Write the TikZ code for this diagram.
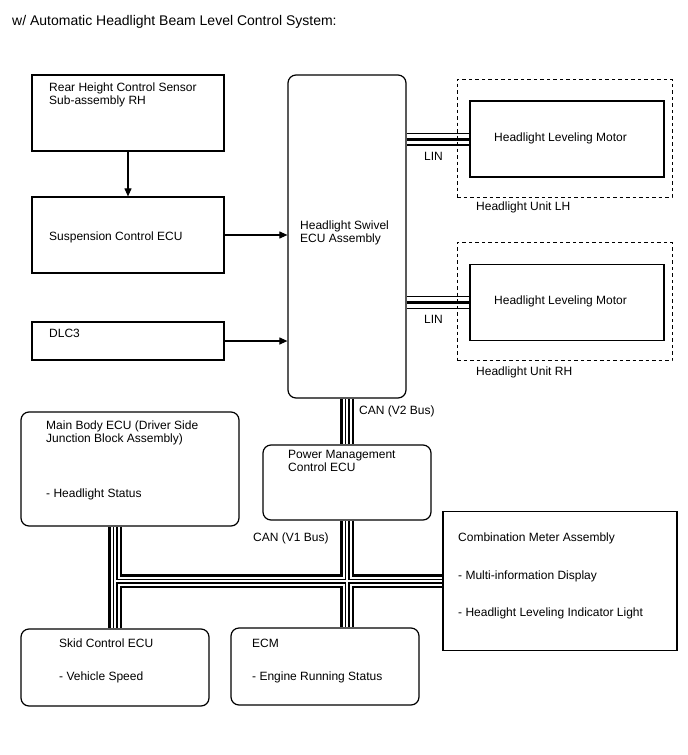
\documentclass[tikz,border=0pt]{standalone}
\usepackage{fontspec}
\setmainfont{Liberation Sans}
\usetikzlibrary{
  arrows.meta,
  positioning,
  calc,
  backgrounds
}
\tikzset{
  sqbox/.style={draw, line width=1.2pt, inner sep=0pt},
  rbox/.style={sqbox, rounded corners=8pt},
  unitbox/.style={draw, line width=1pt, dash pattern=on 3.5pt off 3pt, inner sep=0pt},
  txt/.style={anchor=base west, align=left, inner sep=0pt,
    font=\fontsize{12}{13.5}\selectfont},
  arr/.style={-{Triangle[length=8pt,width=7pt]}, line width=1.1pt},
}

\begin{document}
\begin{tikzpicture}[x=1pt, y=-1pt]
  \useasboundingbox (0,0) rectangle (688,755);
  \node[txt, font=\fontsize{14}{16}\selectfont] (title) at (12,25)
    {w/ Automatic Headlight Beam Level Control System:};

  % left column
  \node[sqbox, minimum width=192pt, minimum height=76pt] (rhs) at (128,113) {};
  \node[sqbox, minimum width=192pt, minimum height=76pt] (susp) at (128,235) {};
  \node[sqbox, minimum width=192pt, minimum height=38pt] (dlc) at (128,341) {};
  \node[txt] (rhstxt) at (49,104.5) {Rear Height Control Sensor\\Sub-assembly RH};
  \node[txt] (susptxt) at (49,240) {Suspension Control ECU};
  \node[txt] (dlctxt) at (49,337) {DLC3};

  % swivel ECU and headlight units
  \node[rbox, minimum width=118pt, minimum height=323pt] (swivel) at (347,236.5) {};
  \node[txt] (swiveltxt) at (300,242.5) {Headlight Swivel\\ECU Assembly};
  \node[unitbox, minimum width=215pt, minimum height=118pt] (lhunit) at (564.5,138) {};
  \node[sqbox, minimum width=194pt, minimum height=76pt] (lhmotor) at (567,139) {};
  \node[unitbox, minimum width=215pt, minimum height=118pt] (rhunit) at (564.5,301.5) {};
  \node[sqbox, minimum width=194pt, minimum height=76pt] (rhmotor) at (567,302.5) {};
  \node[txt] (lhmotortxt) at (494,141) {Headlight Leveling Motor};
  \node[txt] (rhmotortxt) at (494,304) {Headlight Leveling Motor};
  \node[txt] (lhlin) at (424,160) {LIN};
  \node[txt] (rhlin) at (424,323) {LIN};
  \node[txt] (lhunittxt) at (476,210) {Headlight Unit LH};
  \node[txt] (rhunittxt) at (476,375) {Headlight Unit RH};

  % CAN side
  \node[rbox, minimum width=218pt, minimum height=114pt] (mainbody) at (130,469) {};
  \node[rbox, minimum width=168pt, minimum height=75pt] (pm) at (347,482.5) {};
  \node[sqbox, minimum width=234pt, minimum height=139pt] (combo) at (560,581) {};
  \node[rbox, minimum width=188pt, minimum height=77pt] (skid) at (115,667.5) {};
  \node[rbox, minimum width=188pt, minimum height=77pt] (ecm) at (325,666.5) {};
  \node[txt] (v2txt) at (359,414) {CAN (V2 Bus)};
  \node[txt] (v1txt) at (253,541) {CAN (V1 Bus)};
  \node[txt] (pmtxt) at (288,471.5) {Power Management\\Control ECU};
  \node[txt] (mbtxt) at (46,442.5) {Main Body ECU (Driver Side\\Junction Block Assembly)};
  \node[txt] (mbstat) at (46,497) {- Headlight Status};
  \node[txt] (combotxt) at (458,541) {Combination Meter Assembly};
  \node[txt] (combodisp) at (458,579) {- Multi-information Display};
  \node[txt] (combolight) at (458,616) {- Headlight Leveling Indicator Light};
  \node[txt] (skidtxt) at (59,647) {Skid Control ECU};
  \node[txt] (skidspeed) at (59,680) {- Vehicle Speed};
  \node[txt] (ecmtxt) at (252,647) {ECM};
  \node[txt] (ecmrun) at (252,680) {- Engine Running Status};

  \draw[arr] (rhs) -- (susp);
  \draw[arr] (susp.east) -- (susp.east -| swivel.west);
  \draw[arr] (dlc.east) -- (dlc.east -| swivel.west);

  \begin{scope}[on background layer]
    % LIN lines
    \foreach \w/\c in {13/black,10.5/white,3/black}
      \draw[line width=\w pt, \c] (swivel.east |- lhmotor.west) -- (lhmotor.west)
        (swivel.east |- rhmotor.west) -- (rhmotor.west);
    % CAN buses
    \foreach \w/\c in {14/black,9/white,5/black,2/white}
      \draw[line width=\w pt, \c] (swivel.south) -- (pm.north)
        (skid.north |- mainbody.south) -- (skid.north)
        (pm.south) -- (pm.south |- ecm.north)
        (skid.north |- combo.west) -- (combo.west);
  \end{scope}
\end{tikzpicture}
\end{document}
